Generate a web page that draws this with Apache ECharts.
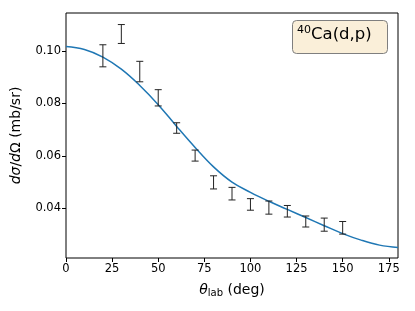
<!DOCTYPE html>
<html>
<head>
<meta charset="utf-8">
<script src="https://cdn.jsdelivr.net/npm/echarts@6/dist/echarts.min.js"></script>
<style>
html,body{margin:0;padding:0;background:#fff;}
#c{width:415px;height:311px;}
</style>
</head>
<body>
<div id="c"></div>
<script>
// Theory curve (lab angle, cross section)
const curveTheta = [0,10,20,30,40,50,60,70,80,90,100,110,120,130,140,150,160,170,180];
const curveXS = [0.1016,0.1005,0.0976,0.0930,0.0868,0.0795,0.0712,0.0632,0.0558,0.0500,0.0461,0.0427,0.0396,0.0365,0.0334,0.0304,0.0279,0.0260,0.0251];
// Experimental data
const expTheta = [20,30,40,50,60,70,80,90,100,110,120,130,140,150];
const expXS = [0.0981,0.1064,0.0921,0.0821,0.0706,0.0601,0.0499,0.0456,0.0415,0.0403,0.0389,0.0350,0.0338,0.0326];
const expErr = [0.0042,0.0036,0.0039,0.0031,0.0020,0.0021,0.0025,0.0024,0.0022,0.0025,0.0022,0.0021,0.0025,0.0024];
// Tick labels
const xTicks = [0,25,50,75,100,125,150,175];
const yTicks = [0.04,0.06,0.08,0.10];

const FONT = 'DejaVu Sans';
const chart = echarts.init(document.getElementById('c'), null, {renderer:'canvas'});

const curveData = curveTheta.map((t,i)=>[t,curveXS[i]]);
const errData = expTheta.map((t,i)=>[t, expXS[i]-expErr[i], expXS[i]+expErr[i]]);

chart.setOption({
  animation:false,
  backgroundColor:'#fff',
  grid:{left:66,right:17,top:13,bottom:53,show:true,borderColor:'#000',borderWidth:1,backgroundColor:'transparent'},
  xAxis:{
    type:'value',min:0,max:180,
    axisLine:{show:false},
    splitLine:{show:false},
    axisTick:{show:true,inside:false,length:4,lineStyle:{color:'#000',width:1},customValues:xTicks},
    axisLabel:{color:'#000',fontFamily:FONT,fontSize:11.5,margin:5,customValues:xTicks,formatter:v=>String(v)},
    name:'{i|θ}{s|lab} (deg)',
    nameLocation:'middle',nameGap:24,
    nameTextStyle:{color:'#000',fontFamily:FONT,fontSize:14,
      rich:{i:{fontFamily:FONT,fontStyle:'italic',fontSize:14,color:'#000'},
            s:{fontFamily:FONT,fontSize:10,color:'#000',padding:[6,0,0,0]}}}
  },
  yAxis:{
    type:'value',min:0.0211,max:0.1144,
    axisLine:{show:false},
    splitLine:{show:false},
    axisTick:{show:true,inside:false,length:4,lineStyle:{color:'#000',width:1},customValues:yTicks},
    axisLabel:{color:'#000',fontFamily:FONT,fontSize:11.5,margin:5,customValues:yTicks,formatter:v=>v.toFixed(2)},
    name:'{i|dσ}/{i|d}Ω (mb/sr)',
    nameLocation:'middle',nameGap:43,nameRotate:90,
    nameTextStyle:{color:'#000',fontFamily:FONT,fontSize:14,
      rich:{i:{fontFamily:FONT,fontStyle:'italic',fontSize:14,color:'#000'}}}
  },
  series:[
    {type:'line',data:curveData,smooth:0.4,showSymbol:false,symbol:'none',
     lineStyle:{color:'#1f77b4',width:1.5},z:3},
    {type:'custom',data:errData,z:4,
     renderItem:function(params,api){
       const x=api.value(0);
       const lo=api.coord([x,api.value(1)]);
       const hi=api.coord([x,api.value(2)]);
       const cw=3.5;
       const st={stroke:'#222',lineWidth:1,fill:null};
       return {type:'group',children:[
         {type:'line',shape:{x1:lo[0],y1:lo[1],x2:hi[0],y2:hi[1]},style:st},
         {type:'line',shape:{x1:lo[0]-cw,y1:lo[1],x2:lo[0]+cw,y2:lo[1]},style:st},
         {type:'line',shape:{x1:hi[0]-cw,y1:hi[1],x2:hi[0]+cw,y2:hi[1]},style:st}
       ]};
     }}
  ],
  graphic:[
    {type:'rect',left:292,top:20,shape:{width:95,height:33,r:4},
     style:{fill:'#FAEFD9',stroke:'#7f7f7f',lineWidth:1},z:10},
    {type:'text',left:297,top:25,z:11,
     style:{text:'{sup|40}{b|Ca(d,p)}',fill:'#000',
       rich:{sup:{fontFamily:FONT,fontSize:11,padding:[0,0,8,0],fill:'#000'},
             b:{fontFamily:FONT,fontSize:16.5,fill:'#000'}}}}
  ]
});
</script>
</body>
</html>
